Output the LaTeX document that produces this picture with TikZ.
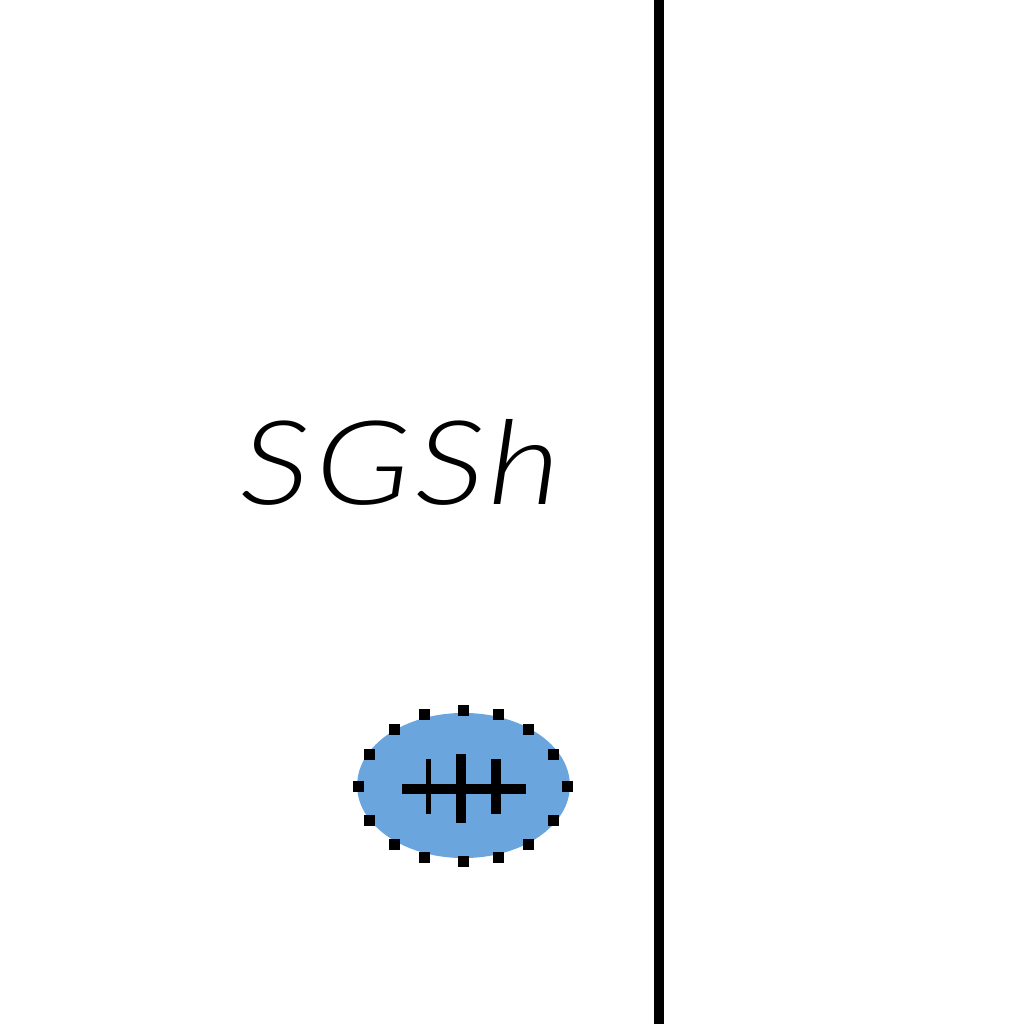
\documentclass[tikz,border=0pt]{standalone}
\usepackage{tikz}
\usepackage{xcolor}
\usepackage{fontspec}
\setmainfont{Liberation Sans}
\newfontfamily\namefont[LetterSpace=4,FakeStretch=1.2,ItalicFont={Lato Light Italic}]{Lato Light}
\usetikzlibrary{arrows.meta, positioning, shapes.geometric, calc}
\definecolor{vesicle}{HTML}{6AA5DE}
\tikzset{
  namelabel/.style={font=\fontsize{88}{88}\selectfont\namefont\itshape, inner sep=0pt},
  blob/.style={ellipse, fill=vesicle, minimum width=5.63cm, minimum height=3.84cm, inner sep=0pt},
  bar/.style={line width=#1, draw=black},
  bar/.default=10pt,
  tick/.style={fill=black, minimum size=0.3cm, inner sep=0pt}
}

\begin{document}
\begin{tikzpicture}[x=0.02646cm, y=-0.02646cm]
    \useasboundingbox (0,0) rectangle (1024,1024);
    \coordinate (wallTop) at (659,0);
    \coordinate (wallEnd) at (659,1024);
    \draw[bar=0.24cm] (wallTop) -- (wallEnd);

    \node[namelabel] (name) at (401,462) {SGSh};
    \node[blob] (cell) at (463.5,785.5) {};

    % dots round the cell
    \foreach \dx/\dy in {0/-75,35/-71,65/-56,90/-31,104/1,90/35,65/59,35/72,0/76,-39/72,-69/59,-94/35,-105/1,-94/-31,-69/-56,-39/-71}
      \node[tick] at ($(cell.center)+(\dx,\dy)$) {};

    % marks inside the cell
    \coordinate (hL) at (402,789);
    \coordinate (hR) at (526,789);
    \draw[bar=0.265cm] (hL) -- (hR);
    \draw[bar=0.13cm] (428.5,759) -- (428.5,814);
    \draw[bar=0.265cm] (461,754) -- (461,823);
    \draw[bar=0.265cm] (496,759) -- (496,814);
\end{tikzpicture}
\end{document}
